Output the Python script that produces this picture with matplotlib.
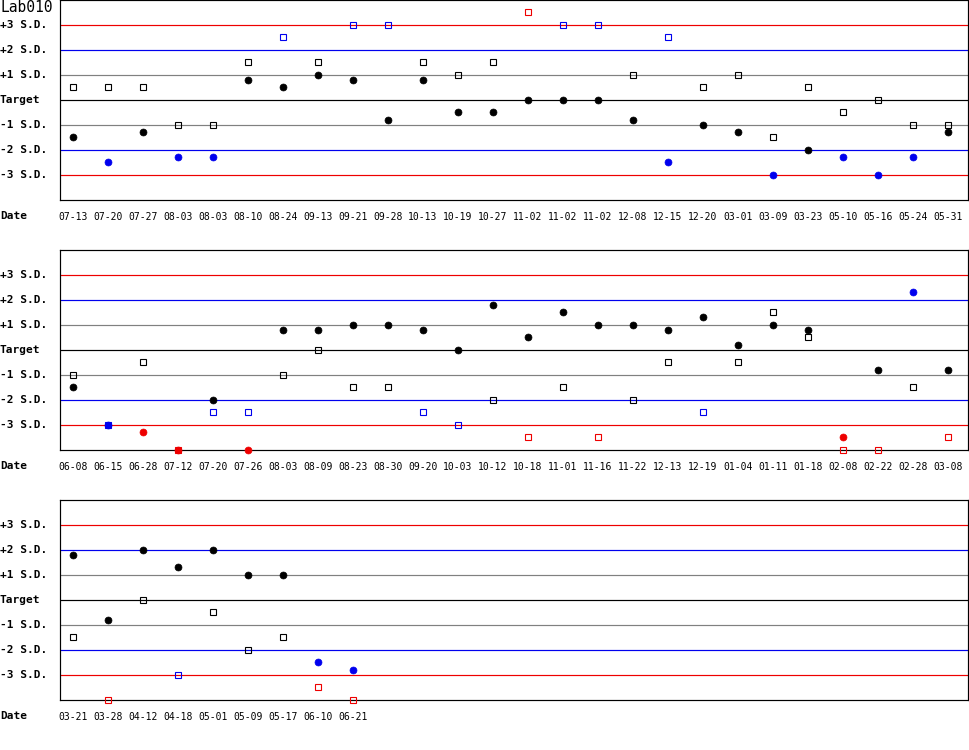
import numpy as np
import matplotlib
matplotlib.use('Agg')
import matplotlib.pyplot as plt

# ---- data (values in S.D. units) ----
dates_1 = ['07-13', '07-20', '07-27', '08-03', '08-03', '08-10', '08-24', '09-13',
           '09-21', '09-28', '10-13', '10-19', '10-27', '11-02', '11-02', '11-02',
           '12-08', '12-15', '12-20', '03-01', '03-09', '03-23', '05-10', '05-16',
           '05-24', '05-31']
circles_1 = [-1.47, -2.48, -1.28, -2.27, -2.27, 0.8, 0.52, 1.0, 0.8, -0.8, 0.8, -0.48,
             -0.48, 0.0, 0.0, 0.0, -0.8, -2.48, -1.0, -1.28, -3.0, -2.0, -2.27, -3.0,
             -2.27, -1.28]
squares_1 = [0.52, 0.52, 0.52, -1.0, -1.0, 1.52, 2.52, 1.52, 3.0, 3.0, 1.52, 1.0,
             1.52, 3.52, 3.0, 3.0, 1.0, 2.52, 0.52, 1.0, -1.48, 0.52, -0.48, 0.0,
             -1.0, -1.0]

dates_2 = ['06-08', '06-15', '06-28', '07-12', '07-20', '07-26', '08-03', '08-09',
           '08-23', '08-30', '09-20', '10-03', '10-12', '10-18', '11-01', '11-16',
           '11-22', '12-13', '12-19', '01-04', '01-11', '01-18', '02-08', '02-22',
           '02-28', '03-08']
circles_2 = [-1.48, -3.0, -3.28, -4.0, -2.0, -4.0, 0.8, 0.8, 1.0, 1.0, 0.8, 0.0,
             1.8, 0.52, 1.52, 1.0, 1.0, 0.8, 1.32, 0.2, 1.0, 0.8, -3.48, -0.8,
             2.32, -0.8]
squares_2 = [-1.0, -3.0, -0.48, -4.0, -2.48, -2.48, -1.0, 0.0, -1.48, -1.48, -2.48,
             -3.0, -2.0, -3.48, -1.48, -3.48, -2.0, -0.48, -2.48, -0.48, 1.52, 0.52,
             -4.0, -4.0, -1.48, -3.48]

dates_3 = ['03-21', '03-28', '04-12', '04-18', '05-01', '05-09', '05-17', '06-10', '06-21']
circles_3 = [1.8, -0.8, 2.0, 1.32, 2.0, 1.0, 1.0, -2.48, -2.8]
squares_3 = [-1.48, -4.0, 0.0, -3.0, -0.48, -2.0, -1.48, -3.48, -4.0]

sd_levels = [3, 2, 1, 0, -1, -2, -3]
sd_labels = ['+3 S.D.', '+2 S.D.', '+1 S.D.', 'Target', '-1 S.D.', '-2 S.D.', '-3 S.D.']

RED = '#ee0000'
BLUE = '#0000ee'


def level_color(v):
    # black inside 2 S.D., blue up to 3 S.D., red beyond
    if abs(v) > 3:
        return RED
    if abs(v) > 2:
        return BLUE
    return 'black'


def line_color(level):
    return {3: RED, 2: BLUE, 1: 'gray', 0: 'black'}[abs(level)]


W, H = 970, 750
fig = plt.figure(figsize=(W / 100, H / 100), dpi=100)

panels = [(dates_1, circles_1, squares_1, 0),
          (dates_2, circles_2, squares_2, 250),
          (dates_3, circles_3, squares_3, 500)]

left_px, right_px, box_h = 60, 968.5, 200
first_x, step = 72.7, 35.0
px = 0.72  # one pixel in points

for k, (dates, circles, squares, top_px) in enumerate(panels):
    ax = fig.add_axes([left_px / W, 1 - (top_px + box_h) / H,
                       (right_px - left_px) / W, box_h / H])
    ax.set_xlim((left_px - first_x) / step, (right_px - first_x) / step)
    ax.set_ylim(-4, 4)

    # control lines
    for lv in sd_levels:
        ax.axhline(lv, color=line_color(lv), lw=px * 1.2, zorder=1)

    xs = np.arange(len(dates))
    for x, c, s in zip(xs, circles, squares):
        sc = level_color(s)
        filled = np.isclose(c, s)
        ax.plot(x, s, marker='s', ms=5, mec=sc, mew=0.8,
                mfc=sc if filled else 'none', ls='none', zorder=3, clip_on=False)
        ax.plot(x, c, marker='o', ms=5, mec=level_color(c), mew=0.5,
                mfc=level_color(c), ls='none', zorder=4, clip_on=False)

    for sp in ax.spines.values():
        sp.set_linewidth(px * 1.2)
        sp.set_color('black')

    ax.set_yticks([])
    ax.set_xticks(xs)
    ax.set_xticklabels(dates, family='DejaVu Sans Mono', fontsize=7)
    ax.tick_params(axis='x', length=0, pad=9)

    xl = -left_px / (right_px - left_px)
    ytr = ax.get_yaxis_transform()
    for lv, lab in zip(sd_levels, sd_labels):
        ax.text(xl, lv, lab, transform=ytr, ha='left', va='center',
                family='DejaVu Sans Mono', fontweight='bold', fontsize=8, clip_on=False)
    ax.text(xl, -16 / box_h, 'Date', transform=ax.transAxes, ha='left', va='center',
            family='DejaVu Sans Mono', fontweight='bold', fontsize=8, clip_on=False)

fig.text(0.0, 1 - 8 / H, 'Lab010', ha='left', va='center',
         family='DejaVu Sans Mono', fontsize=10.5)

fig.savefig('out.png', dpi=100)
